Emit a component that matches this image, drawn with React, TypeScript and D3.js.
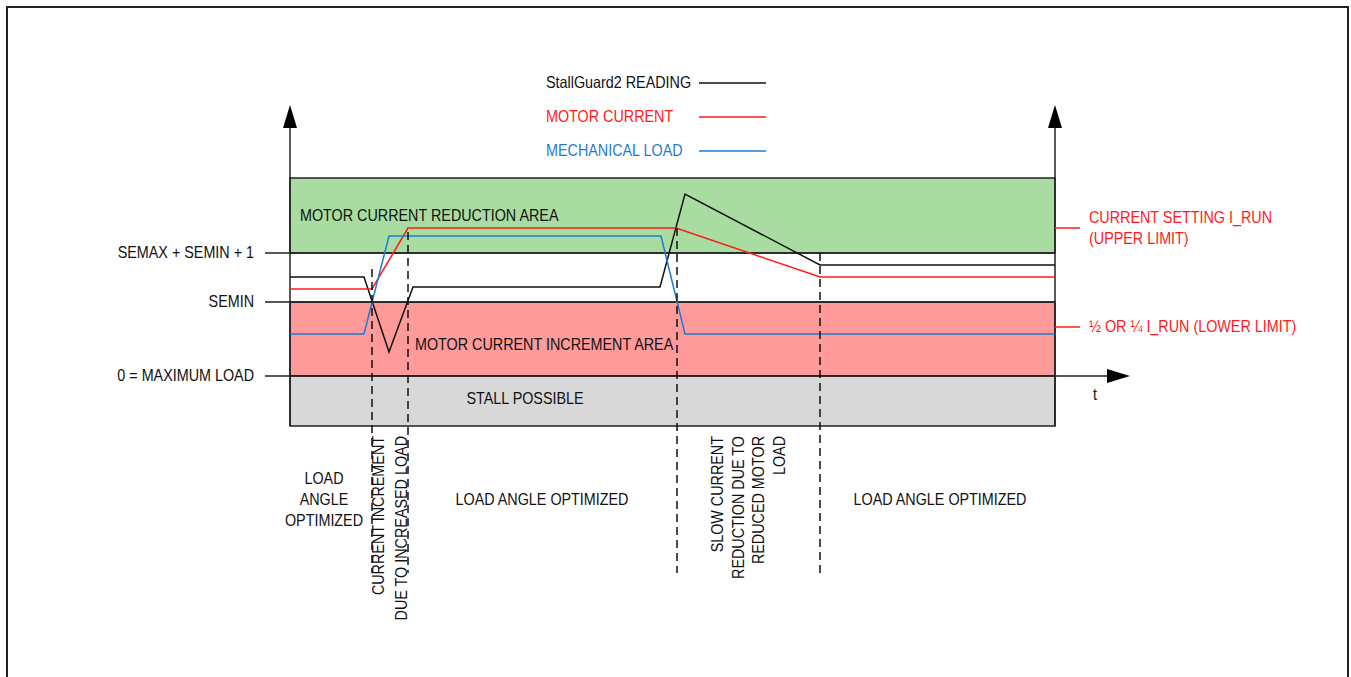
import { useEffect, useRef } from "react";
import * as d3 from "d3";

// time axis (arbitrary units, 0 = left edge of the zones)
const sgTime = [0, 74, 99, 123, 370, 395, 530, 765];
const sgReading = [99, 99, 24, 89, 89, 182, 111, 111];

const currentTime = [0, 82, 118, 386, 530, 765];
const currentValue = [87, 87, 148, 148, 99, 99];

const loadTime = [0, 74, 99, 371, 395, 765];
const loadValue = [42, 42, 140, 140, 42, 42];

const legendNames = ["StallGuard2 READING", "MOTOR CURRENT", "MECHANICAL LOAD"];
const legendColors = ["#111111", "#ff1a1a", "#1f7bd0"];

const levelLabels = ["SEMAX + SEMIN + 1", "SEMIN", "0 = MAXIMUM LOAD"];
const levelValues = [123, 74, 0];

const zoneNames = ["MOTOR CURRENT REDUCTION AREA", "MOTOR CURRENT INCREMENT AREA", "STALL POSSIBLE"];
const zoneTop = [198, 74, 0];
const zoneBottom = [123, 0, -50];
const zoneFill = ["#a8dca0", "#ff9a9a", "#d8d8d8"];

const markerTime = [82, 118, 387, 530];
const markerTop = [107, 144, 148, 123];
const markerBottom = -197;

const limitLabels = [["CURRENT SETTING I_RUN", "(UPPER LIMIT)"], ["½ OR ¼ I_RUN (LOWER LIMIT)"]];
const limitValues = [148, 49];

const FONT = "'Liberation Sans', Arial, sans-serif";

const App = () => {
    const ref = useRef<SVGSVGElement | null>(null);

    useEffect(() => {
        const svg = d3.select(ref.current);
        svg.selectAll("*").remove();

        const x = d3.scaleLinear().domain([0, 765]).range([290, 1055]);
        const y = d3.scaleLinear().domain([0, 250]).range([376, 126]);
        const fontSize = "16.5px";

        // narrow text: Liberation Sans squeezed horizontally
        const label = (px: number, py: number, s: string, anchor = "start", fill = "#111", rot = 0) => {
            svg.append("text")
                .attr("transform", `translate(${px},${py}) rotate(${rot}) scale(0.87,1)`)
                .attr("text-anchor", anchor)
                .attr("font-family", FONT)
                .attr("font-size", fontSize)
                .attr("fill", fill)
                .text(s);
        };

        // outer frame
        svg.append("rect")
            .attr("x", 7).attr("y", 7)
            .attr("width", 1341).attr("height", 700)
            .attr("fill", "none")
            .attr("stroke", "#222")
            .attr("stroke-width", 2);

        // zones
        zoneNames.forEach((name, i) => {
            svg.append("rect")
                .attr("x", x(0))
                .attr("y", y(zoneTop[i]))
                .attr("width", x(765) - x(0))
                .attr("height", y(zoneBottom[i]) - y(zoneTop[i]))
                .attr("fill", zoneFill[i])
                .attr("stroke", "#222")
                .attr("stroke-width", 1.5);
        });

        // zone labels
        const zoneLabelPos = [[10, 155, "start"], [125, 26, "start"], [235, -28, "middle"]];
        zoneNames.forEach((name, i) => {
            label(x(zoneLabelPos[i][0] as number), y(zoneLabelPos[i][1] as number), name, zoneLabelPos[i][2] as string);
        });

        // level ticks + labels
        levelValues.forEach((v, i) => {
            svg.append("line")
                .attr("x1", x(-25)).attr("x2", x(765))
                .attr("y1", y(v)).attr("y2", y(v))
                .attr("stroke", "#222")
                .attr("stroke-width", 1.5);
            label(x(-36), y(v) + 5, levelLabels[i], "end");
        });

        // vertical axes with arrow heads
        [0, 765].forEach(t => {
            svg.append("line")
                .attr("x1", x(t)).attr("x2", x(t))
                .attr("y1", y(250)).attr("y2", y(-50))
                .attr("stroke", "#222")
                .attr("stroke-width", 1.5);
            svg.append("path")
                .attr("d", `M${x(t)},${y(271)}L${x(t) - 7},${y(248)}L${x(t) + 7},${y(248)}Z`)
                .attr("fill", "#000");
        });

        // time axis arrow
        svg.append("line")
            .attr("x1", x(765)).attr("x2", x(820))
            .attr("y1", y(0)).attr("y2", y(0))
            .attr("stroke", "#222")
            .attr("stroke-width", 1.5);
        svg.append("path")
            .attr("d", `M${x(840)},${y(0)}L${x(817)},${y(7)}L${x(817)},${y(-7)}Z`)
            .attr("fill", "#000");
        label(x(805), y(-24), "t", "middle");

        // series
        const line = d3.line<[number, number]>()
            .x(d => x(d[0]))
            .y(d => y(d[1]));

        const series: [number[], number[]][] = [
            [sgTime, sgReading],
            [currentTime, currentValue],
            [loadTime, loadValue],
        ];
        series.forEach(([ts, vs], i) => {
            svg.append("path")
                .datum(ts.map((t, j) => [t, vs[j]] as [number, number]))
                .attr("d", line)
                .attr("fill", "none")
                .attr("stroke", legendColors[i])
                .attr("stroke-width", 1.5);
        });

        // dashed phase markers
        markerTime.forEach((t, i) => {
            svg.append("line")
                .attr("x1", x(t)).attr("x2", x(t))
                .attr("y1", y(markerTop[i])).attr("y2", y(markerBottom))
                .attr("stroke", "#111")
                .attr("stroke-width", 1.5)
                .attr("stroke-dasharray", "8,5");
        });

        // legend
        legendNames.forEach((name, i) => {
            const ly = 83 + i * 34;
            label(546, ly + 5, name, "start", i === 0 ? "#111" : legendColors[i]);
            svg.append("line")
                .attr("x1", 699).attr("x2", 766)
                .attr("y1", ly).attr("y2", ly)
                .attr("stroke", legendColors[i])
                .attr("stroke-width", 1.5);
        });

        // current limits on the right
        limitValues.forEach((v, i) => {
            svg.append("line")
                .attr("x1", x(765)).attr("x2", x(790))
                .attr("y1", y(v)).attr("y2", y(v))
                .attr("stroke", "#ff1a1a")
                .attr("stroke-width", 1.5);
            limitLabels[i].forEach((s, k) => {
                label(x(799), y(v) - (i === 0 ? 5 : -5) + k * 21, s, "start", "#ff1a1a");
            });
        });

        // phase descriptions
        const flat = [
            { t: 34, lines: ["LOAD", "ANGLE", "OPTIMIZED"], base: 484 },
            { t: 252, lines: ["LOAD ANGLE OPTIMIZED"], base: 505 },
            { t: 650, lines: ["LOAD ANGLE OPTIMIZED"], base: 505 },
        ];
        flat.forEach(p => {
            p.lines.forEach((s, k) => label(x(p.t), p.base + k * 21, s, "middle"));
        });

        const rotated = [
            { t: 88, lines: ["CURRENT INCREMENT", "DUE TO INCREASED LOAD"], gap: 23 },
            { t: 427, lines: ["SLOW CURRENT", "REDUCTION DUE TO", "REDUCED MOTOR", "LOAD"], gap: 20.7 },
        ];
        rotated.forEach(p => {
            p.lines.forEach((s, k) => label(x(p.t) + k * p.gap + 6, 436, s, "end", "#111", -90));
        });
    }, []);

    return (
        <div style={{ position: "absolute", left: 0, top: 0 }}>
            <svg ref={ref} width={1351} height={677} style={{ display: "block", background: "#fff" }} />
        </div>
    );
};

export default App;
